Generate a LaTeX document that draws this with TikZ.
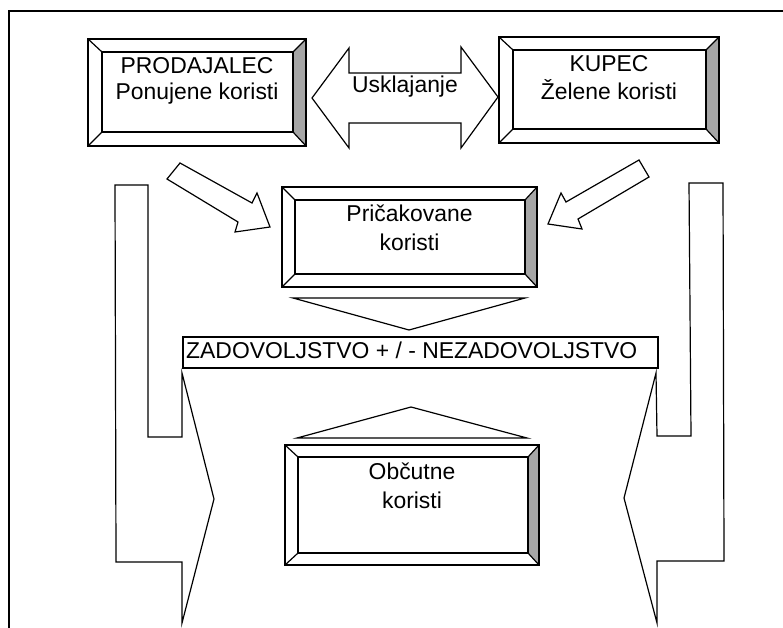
\documentclass[tikz,border=0pt]{standalone}
\usepackage{fontspec}
\setmainfont{Liberation Sans}
\newcommand\bevbox[9]{%
  \node[boxrect, minimum width={(#4-#2)*1pt}, minimum height={(#5-#3)*1pt}] (#1) at ({(#2+#4)/2},{(#3+#5)/2}) {};
  \node[boxrect, minimum width={(#8-#6)*1pt}, minimum height={(#9-#7)*1pt}] (#1-in) at ({(#6+#8)/2},{(#7+#9)/2}) {};
  \fill[bevelgray] (#1.north east) -- (#1-in.north east) -- (#1-in.south east) -- (#1.south east) -- cycle;
  \draw[ln] (#1.north west) -- (#1-in.north west) (#1.north east) -- (#1-in.north east)
            (#1.south west) -- (#1-in.south west) (#1.south east) -- (#1-in.south east);
  \draw[ln] (#1.north west) rectangle (#1.south east);
  \draw[ln] (#1-in.north west) rectangle (#1-in.south east);
}
\begin{document}
\begin{tikzpicture}[x=1pt,y=-1pt,
  ln/.style={line width=1.2pt, line join=miter},
  blockarrow/.style={ln, draw=black, fill=white},
  boxrect/.style={draw=none, inner sep=0pt, outer sep=0pt},
  lbl/.style={font=\fontsize{22.9}{27}\selectfont, inner sep=0pt, anchor=base},
  bevelgray/.style={fill=black!35},
  frame/.style={line width=1.5pt}]
\useasboundingbox (0,0) rectangle (783,628);
\fill[white] (0,0) rectangle (783,628);
% outer frame
\draw[frame] (9,628) -- (9,11) -- (783,11);

% bevelled boxes
\bevbox{prod}{88}{39}{306}{146}{102}{52}{293}{132}
\bevbox{kup}{499}{37}{719}{143}{513}{50}{706}{129}
\bevbox{pric}{282}{187}{537}{287}{295}{200}{525}{274}
\bevbox{obc}{285}{445}{539}{565}{298}{457}{528}{553}

% double arrow Usklajanje
\draw[blockarrow] (312,98) -- (349,48) -- (349,73) -- (461,73) -- (461,47) -- (498,97)
  -- (461,148) -- (461,123) -- (349,123) -- (349,148) -- cycle;

% diagonal arrows
\draw[blockarrow] (180,163) -- (252,203) -- (257,193) -- (270,227) -- (235,232) -- (238,222) -- (167,179) -- cycle;
\draw[blockarrow] (639,160) -- (566,202) -- (561,193) -- (548,224) -- (582,229) -- (578,219) -- (649,177) -- cycle;

% triangles
\draw[blockarrow] (293,298) -- (525,298) -- (409,330) -- cycle;
\draw[blockarrow] (297,438) -- (527,438) -- (411,407) -- cycle;

% bent side arrows
\draw[blockarrow] (115,185) -- (148,185) -- (148,437) -- (182,437) -- (182,373) -- (214,499)
  -- (182,623) -- (182,562) -- (116,562) -- cycle;
\draw[blockarrow] (689,183) -- (723,183) -- (724,561) -- (657,561) -- (657,623) -- (624,498)
  -- (656,373) -- (657,436) -- (691,436) -- cycle;

% result box
\node[draw, ln, inner sep=0pt, outer sep=0pt, minimum width=475pt, minimum height=31pt] (zad) at (420.5,352.5) {};

% texts
\node[lbl] (tprod1) at (197,74) {PRODAJALEC};
\node[lbl] (tprod2) at (197,100) {Ponujene koristi};
\node[lbl] (tkup1) at (609,72) {KUPEC};
\node[lbl] (tkup2) at (609,100) {Želene koristi};
\node[lbl] (tusk) at (405,93) {Usklajanje};
\node[lbl] (tpric1) at (409.5,222) {Pričakovane};
\node[lbl] (tpric2) at (409.5,250) {koristi};
\node[lbl, anchor=base west] (tzad) at (186,358) {ZADOVOLJSTVO + / - NEZADOVOLJSTVO};
\node[lbl] (tobc1) at (412,479) {Občutne};
\node[lbl] (tobc2) at (412,508) {koristi};
\end{tikzpicture}
\end{document}
